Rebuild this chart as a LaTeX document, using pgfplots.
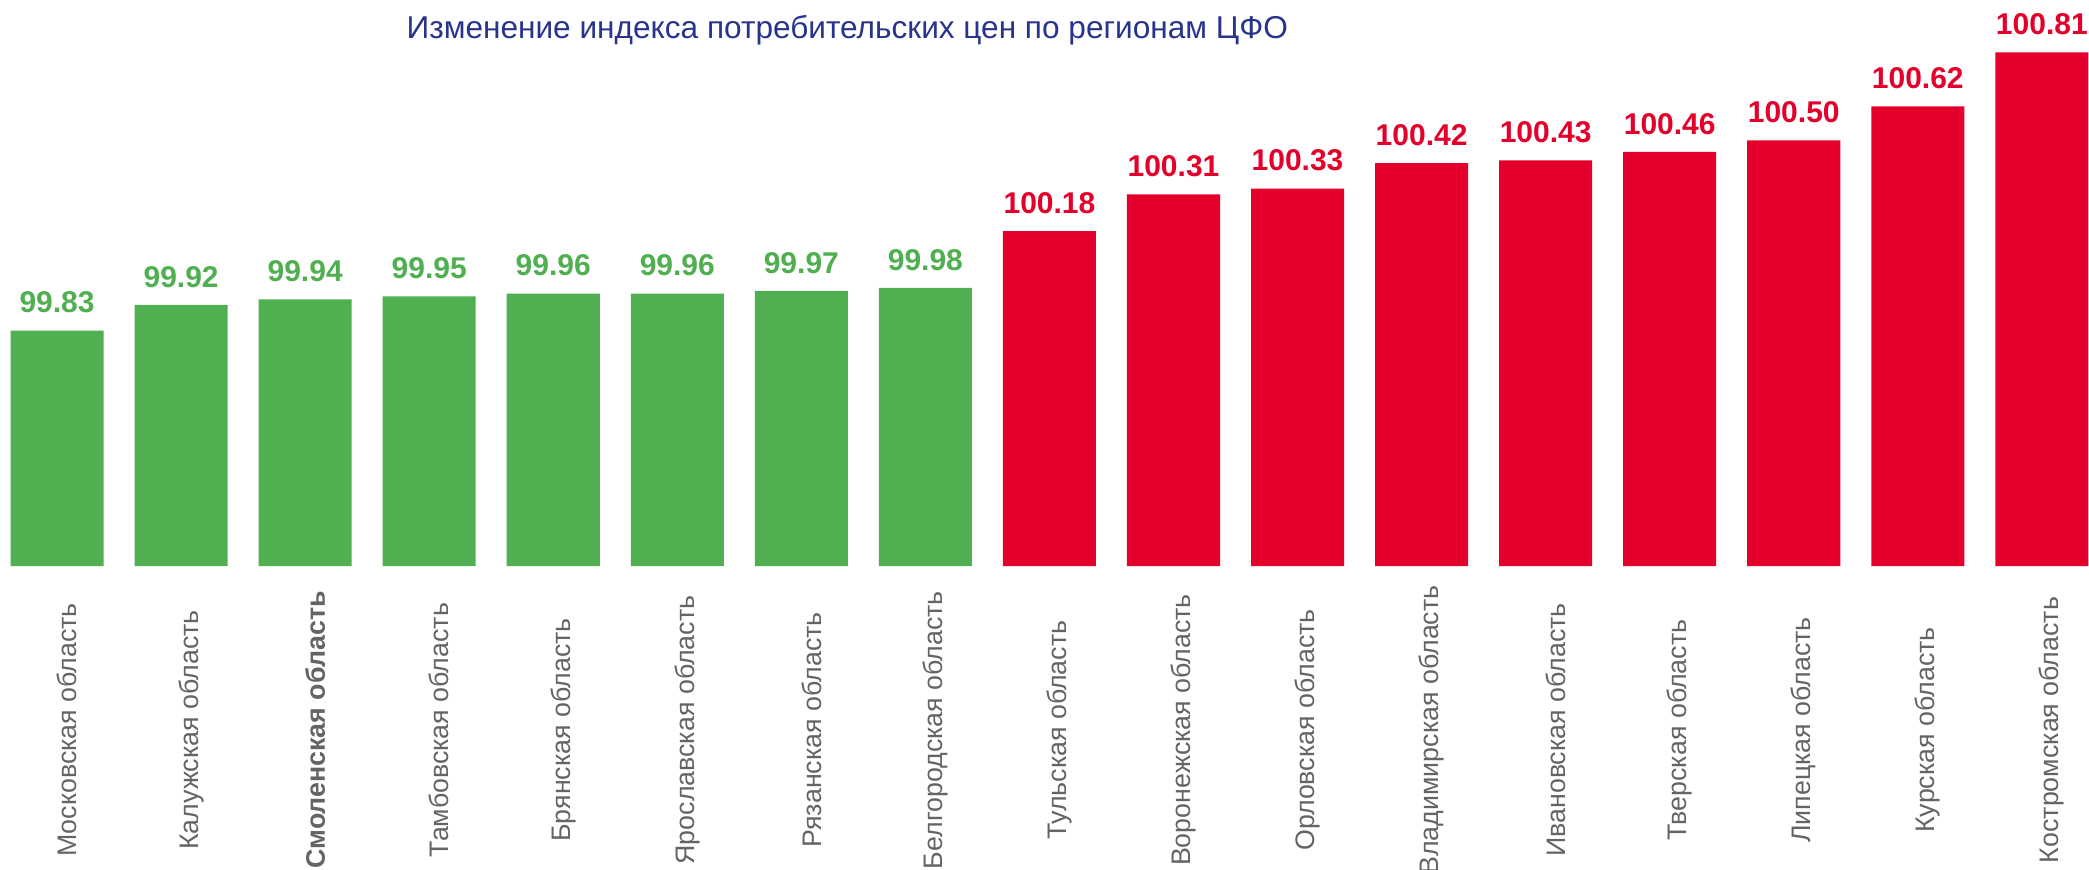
\documentclass[border=0pt]{standalone}
\usepackage{fontspec}
\setmainfont{Liberation Sans}
\usepackage{pgfplots}
\usepackage{pgfplotstable}
\pgfplotsset{compat=1.18}
\definecolor{cgreen}{RGB}{80,175,80}
\definecolor{cred}{RGB}{227,0,43}
\definecolor{ctitle}{RGB}{40,52,140}
\definecolor{cgray}{RGB}{100,100,100}

\pgfplotstableread{
x y
0 99.83
1 99.92
2 99.94
3 99.95
4 99.96
5 99.96
6 99.97
7 99.98
}\greendata
\pgfplotstableread{
x y
8 100.18
9 100.31
10 100.33
11 100.42
12 100.43
13 100.46
14 100.50
15 100.62
16 100.81
}\reddata

\begin{document}
\begin{tikzpicture}
\begin{axis}[
  at={(0,0)}, anchor=south west,
  scale only axis, width=1044.5pt, height=283pt,
  xmin=-0.46, xmax=16.38, ymin=0, ymax=1.995,
  clip=false,
  axis line style={draw=none},
  major tick length=0pt,
  ytick=\empty,
  xtick={0,...,16},
  xticklabels={Московская область, Калужская область, {\bfseries Смоленская область}, Тамбовская область, Брянская область, Ярославская область, Рязанская область, Белгородская область, Тульская область, Воронежская область, Орловская область, Владимирская область, Ивановская область, Тверская область, Липецкая область, Курская область, Костромская область},
  xticklabel style={xshift=5pt, rotate=90, anchor=center, font=\fontsize{13.4pt}{15pt}\selectfont, text=cgray},
  xticklabel shift=82pt,
  ybar, bar width=0.75, bar shift=0pt,
  nodes near coords={\pgfmathprintnumber[fixed,zerofill,precision=2,assume math mode=true]{\pgfplotspointmeta}},
  every node near coord/.append style={font=\fontsize{15pt}{17pt}\selectfont\bfseries, anchor=south, inner sep=0pt, yshift=8.5pt},
]
\addplot[fill=cgreen, draw=none, point meta=explicit, every node near coord/.append style={text=cgreen}] table[x=x, y expr=\thisrow{y}-99, meta=y]{\greendata};
\addplot[fill=cred, draw=none, point meta=explicit, every node near coord/.append style={text=cred}] table[x=x, y expr=\thisrow{y}-99, meta=y]{\reddata};
\node[anchor=base, text=ctitle, font=\fontsize{15.8pt}{18pt}\selectfont, inner sep=0pt] at (axis cs:6.37,1.858) {Изменение индекса потребительских цен по регионам ЦФО};
\end{axis}
\pgfresetboundingbox
\useasboundingbox (0,-151.5pt) rectangle (1044.5pt,283pt);
\end{tikzpicture}
\end{document}
